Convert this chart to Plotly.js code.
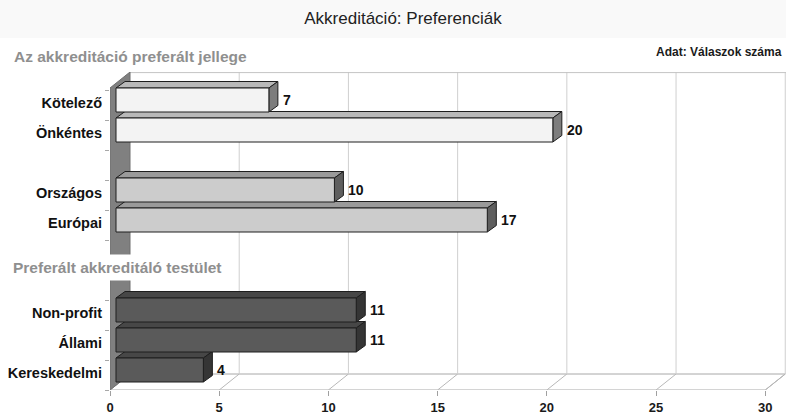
<!DOCTYPE html>
<html>
<head>
<meta charset="utf-8">
<script src="https://cdn.plot.ly/plotly-3.0.1.min.js"></script>
<style>
  html, body { margin: 0; padding: 0; background: #ffffff; }
  #chart { width: 786px; height: 415px; }
</style>
</head>
<body>
<div id="chart"></div>
<script>
// ---- data -------------------------------------------------------------
const chartTitle = 'Akkreditáció: Preferenciák';
const unitNote = 'Adat: Válaszok száma';
const sectionTitles = ['Az akkreditáció preferált jellege', 'Preferált akkreditáló testület'];

const obligationLabels = ['Kötelező', 'Önkéntes'];
const obligationCounts = [7, 20];

const scopeLabels = ['Országos', 'Európai'];
const scopeCounts = [10, 17];

const bodyLabels = ['Non-profit', 'Állami', 'Kereskedelmi'];
const bodyCounts = [11, 11, 4];

const xTicks = [0, 5, 10, 15, 20, 25, 30];

// ---- geometry ---------------------------------------------------------
const FIG_W = 786, FIG_H = 415;
const M = { l: 110, r: 0, t: 72, b: 25 };
const PLOT_W = FIG_W - M.l - M.r;
const PLOT_H = FIG_H - M.t - M.b;
const X_MAX = 30.95;
const Y_TOP = -0.9333, Y_BOT = 9.6667;          // reversed row axis
const XPU = PLOT_W / X_MAX;                      // px per count
const YPU = PLOT_H / (Y_BOT - Y_TOP);            // px per row
const px2x = p => p / XPU;
const px2y = p => p / YPU;

// pseudo-3D depth of the box (floor/wall) and of the bars
const WALL_DX = px2x(20), WALL_DY = -px2y(16);
const BAR_SHIFT = px2x(6);                       // front face sits a little into the box
const BAR_DX = px2x(9), BAR_DY = -px2y(6.5);
const BAR_W = 0.8;

const X_END = xTicks[xTicks.length - 1];
const FLOOR_FRONT = Y_BOT, FLOOR_BACK = Y_BOT + WALL_DY;
const FONT = 'Liberation Sans, Arial, sans-serif';

// blocks of rows with their colours: front, top, side
const blocks = [
  { labels: obligationLabels, counts: obligationCounts, start: 0,
    front: '#f3f3f3', top: '#b9b9b9', side: '#7d7d7d' },
  { labels: scopeLabels, counts: scopeCounts, start: 3,
    front: '#cccccc', top: '#9a9a9a', side: '#5e5e5e' },
  { labels: bodyLabels, counts: bodyCounts, start: 7,
    front: '#5a5a5a', top: '#474747', side: '#353535' }
];

const poly = pts => 'M ' + pts.map(p => p[0] + ' ' + p[1]).join(' L ') + ' Z';

const shapes = [];
// light band behind the title
shapes.push({ type: 'rect', xref: 'paper', yref: 'paper', x0: -M.l / PLOT_W, x1: 1,
  y0: 1 + (M.t - 38) / PLOT_H, y1: 1 + M.t / PLOT_H,
  fillcolor: '#f9f9f9', line: { width: 0 }, layer: 'below' });

// floor
shapes.push({ type: 'path', xref: 'x', yref: 'y', layer: 'below',
  path: poly([[0, FLOOR_FRONT], [X_END, FLOOR_FRONT], [X_END + WALL_DX, FLOOR_BACK], [WALL_DX, FLOOR_BACK]]),
  fillcolor: '#ffffff', line: { color: '#a8a8a8', width: 1 } });
// floor diagonals and back-wall gridlines
xTicks.forEach(v => {
  shapes.push({ type: 'line', xref: 'x', yref: 'y', layer: 'below',
    x0: v, y0: FLOOR_FRONT, x1: v + WALL_DX, y1: FLOOR_BACK, line: { color: '#b8b8b8', width: 1 } });
  if (v > 0) {
    shapes.push({ type: 'line', xref: 'x', yref: 'y', layer: 'below',
      x0: v + WALL_DX, y0: FLOOR_BACK, x1: v + WALL_DX, y1: Y_TOP, line: { color: '#cfcfcf', width: 1 } });
  }
});
// top edge of the back wall
shapes.push({ type: 'line', xref: 'x', yref: 'y', layer: 'below',
  x0: WALL_DX, y0: Y_TOP + 0.02, x1: X_MAX, y1: Y_TOP + 0.02, line: { color: '#c4c4c4', width: 1 } });
// left wall
shapes.push({ type: 'path', xref: 'x', yref: 'y', layer: 'below',
  path: poly([[0, Y_TOP - WALL_DY], [WALL_DX, Y_TOP], [WALL_DX, FLOOR_BACK], [0, FLOOR_FRONT]]),
  fillcolor: '#808080', line: { color: '#6e6e6e', width: 1 } });

const traces = [];
const annotations = [];
const tickRows = [], tickText = [];

blocks.forEach(b => {
  const rows = b.labels.map((_, j) => b.start + j);
  // top and side faces, lower rows first so upper bars overlap them
  rows.slice().reverse().forEach((r, jj) => {
    const j = rows.length - 1 - jj;
    const v = b.counts[j];
    const x0 = BAR_SHIFT, x1 = BAR_SHIFT + v;
    const yt = r - BAR_W / 2, yb = r + BAR_W / 2;
    shapes.push({ type: 'path', xref: 'x', yref: 'y', layer: 'below',
      path: poly([[x0, yt], [x1, yt], [x1 + BAR_DX, yt + BAR_DY], [x0 + BAR_DX, yt + BAR_DY]]),
      fillcolor: b.top, line: { color: '#1e1e1e', width: 1 } });
    shapes.push({ type: 'path', xref: 'x', yref: 'y', layer: 'below',
      path: poly([[x1, yt], [x1, yb], [x1 + BAR_DX, yb + BAR_DY], [x1 + BAR_DX, yt + BAR_DY]]),
      fillcolor: b.side, line: { color: '#1e1e1e', width: 1 } });
  });
  traces.push({
    type: 'bar', orientation: 'h',
    x: b.counts, y: rows, base: BAR_SHIFT, width: BAR_W,
    marker: { color: b.front, line: { color: '#1e1e1e', width: 1 } },
    hoverinfo: 'skip', showlegend: false
  });
  rows.forEach((r, j) => {
    tickRows.push(r + 0.1);
    tickText.push(b.labels[j]);
    annotations.push({ xref: 'x', yref: 'y', x: BAR_SHIFT + b.counts[j] + BAR_DX + px2x(3), y: r,
      xanchor: 'left', yanchor: 'middle', text: String(b.counts[j]), showarrow: false,
      font: { family: FONT, size: 14, weight: 'bold', color: '#111' } });
  });
});

// section headings
annotations.push({ xref: 'paper', yref: 'paper', x: (12 - M.l) / PLOT_W, y: 1 + (M.t - 56) / PLOT_H,
  xanchor: 'left', yanchor: 'middle', text: sectionTitles[0], showarrow: false,
  font: { family: FONT, size: 15.5, weight: 'bold', color: '#8f8f8f' } });
annotations.push({ xref: 'paper', yref: 'paper', x: (8 - M.l) / PLOT_W, y: 1 - (267 - M.t) / PLOT_H,
  xanchor: 'left', yanchor: 'middle', text: sectionTitles[1], showarrow: false,
  bgcolor: '#ffffff', borderpad: 4,
  font: { family: FONT, size: 15.5, weight: 'bold', color: '#8f8f8f' } });
// unit note
annotations.push({ xref: 'paper', yref: 'paper', x: 1 - 2 / PLOT_W, y: 1 + (M.t - 52) / PLOT_H,
  xanchor: 'right', yanchor: 'middle', text: unitNote, showarrow: false,
  font: { family: FONT, size: 12, weight: 'bold', color: '#1a1a1a' } });

const minorRows = [];
for (let k = 0; k <= 10; k++) minorRows.push(k - 1 / 3);

const layout = {
  width: FIG_W, height: FIG_H,
  margin: M,
  paper_bgcolor: '#ffffff', plot_bgcolor: 'rgba(0,0,0,0)',
  title: { text: chartTitle, x: 403 / FIG_W, xref: 'container', xanchor: 'center',
    y: 1 - 18 / FIG_H, yref: 'container', yanchor: 'middle',
    font: { family: FONT, size: 17, color: '#222' } },
  xaxis: {
    range: [0, X_MAX], tickvals: xTicks, ticks: 'outside', ticklen: 5, tickcolor: '#a0a0a0',
    showgrid: false, zeroline: false, showline: false, fixedrange: true,
    tickfont: { family: FONT, size: 13, weight: 'bold', color: '#1a1a1a' }
  },
  yaxis: {
    range: [Y_BOT, Y_TOP], tickmode: 'array', tickvals: tickRows, ticktext: tickText,
    ticks: '', showgrid: false, zeroline: false, showline: false, fixedrange: true,
    ticklabelstandoff: 7,
    tickfont: { family: FONT, size: 14.5, weight: 'bold', color: '#111' },
    minor: { tickmode: 'array', tickvals: minorRows, ticks: 'outside', ticklen: 4, tickcolor: '#a8a8a8', showgrid: false }
  },
  bargap: 0,
  shapes: shapes,
  annotations: annotations,
  showlegend: false
};

Plotly.newPlot('chart', traces, layout, { displayModeBar: false, staticPlot: true });
</script>
</body>
</html>
